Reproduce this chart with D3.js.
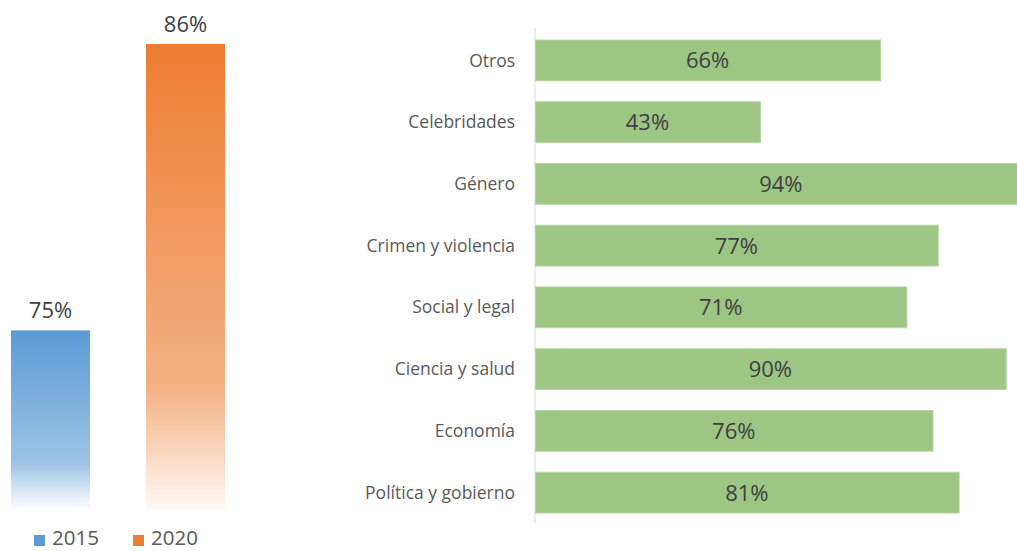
<!DOCTYPE html>
<html lang="es">
<head>
<meta charset="utf-8">
<script src="https://d3js.org/d3.v7.min.js"></script>
<style>
  body { margin: 0; background: #fff; }
  svg { display: block; font-family: "Open Sans", Lato, sans-serif; }
</style>
</head>
<body>
<script>
// years comparison (left)
const years = ["2015", "2020"];
const yearValues = [75, 86];
const yearColours = ["#5B9BD5", "#ED7D31"];

// by topic (right)
const topics = ["Otros", "Celebridades", "Género", "Crimen y violencia",
  "Social y legal", "Ciencia y salud", "Economía", "Política y gobierno"];
const topicValues = [66, 43, 94, 77, 71, 90, 76, 81];

const W = 1017, H = 551;
const svg = d3.select("body").append("svg")
  .attr("width", W).attr("height", H);

const defs = svg.append("defs");
const fades = [
  [{o: 0, c: "#5B9BD5"}, {o: 0.74, c: "#9DC3E6"}, {o: 1, c: "#FFFFFF"}],
  [{o: 0, c: "#ED7D31"}, {o: 0.74, c: "#F4B183"}, {o: 1, c: "#FFF9F5"}]
];
fades.forEach(function(stops, i) {
  const g = defs.append("linearGradient")
    .attr("id", "fade" + i)
    .attr("x1", 0).attr("y1", 0).attr("x2", 0).attr("y2", 1);
  g.selectAll("stop").data(stops).join("stop")
    .attr("offset", d => d.o)
    .attr("stop-color", d => d.c);
});

// ---- left panel
const xl = d3.scaleBand().domain(years).range([11, 225]).paddingInner(0.415).paddingOuter(0);
// the value axis does not start at zero
const yl = d3.scaleLinear().domain([68.1, 86]).range([510, 44]);

const left = svg.append("g");
left.selectAll("rect").data(years).join("rect")
  .attr("x", d => xl(d))
  .attr("width", xl.bandwidth())
  .attr("y", (d, i) => yl(yearValues[i]))
  .attr("height", (d, i) => yl.range()[0] - yl(yearValues[i]))
  .attr("fill", (d, i) => "url(#fade" + i + ")");

left.selectAll(".val").data(years).join("text")
  .attr("class", "val")
  .attr("x", d => xl(d) + xl.bandwidth() / 2)
  .attr("y", (d, i) => yl(yearValues[i]) - 12)
  .attr("text-anchor", "middle")
  .attr("font-size", 22)
  .attr("fill", "#404040")
  .text((d, i) => yearValues[i] + "%");

// legend
const legend = left.selectAll(".leg").data(years).join("g")
  .attr("class", "leg")
  .attr("transform", (d, i) => "translate(" + (34 + i * 99) + ",535)");
legend.append("rect")
  .attr("width", 11).attr("height", 11)
  .attr("fill", (d, i) => yearColours[i]);
legend.append("text")
  .attr("x", 18).attr("y", 10)
  .attr("font-size", 20.5)
  .attr("fill", "#595959")
  .text(d => d);

// ---- right panel
const x0 = 535;
const xr = d3.scaleLinear().domain([0, 100]).range([x0, 1058]);
const yr = d3.scaleBand().domain(topics).range([40, 513]).paddingInner(0.34).paddingOuter(0);

const right = svg.append("g");
right.append("line")
  .attr("x1", x0).attr("x2", x0)
  .attr("y1", 28).attr("y2", 523)
  .attr("stroke", "#D9D9D9");

right.selectAll("rect").data(topics).join("rect")
  .attr("x", x0 + 0.5)
  .attr("y", d => yr(d))
  .attr("height", yr.bandwidth())
  .attr("width", (d, i) => xr(topicValues[i]) - x0)
  .attr("fill", "#9DC583")
  .attr("stroke", "#B5D5A0")
  .attr("stroke-width", 1);

right.selectAll(".cat").data(topics).join("text")
  .attr("class", "cat")
  .attr("x", 515)
  .attr("y", d => yr(d) + yr.bandwidth() / 2)
  .attr("dy", "0.35em")
  .attr("text-anchor", "end")
  .attr("font-size", 17.5)
  .attr("fill", "#595959")
  .text(d => d);

right.selectAll(".val").data(topics).join("text")
  .attr("class", "val")
  .attr("x", (d, i) => (x0 + xr(topicValues[i])) / 2)
  .attr("y", d => yr(d) + yr.bandwidth() / 2)
  .attr("dy", "0.36em")
  .attr("text-anchor", "middle")
  .attr("font-size", 22)
  .attr("fill", "#404040")
  .text((d, i) => topicValues[i] + "%");
</script>
</body>
</html>
